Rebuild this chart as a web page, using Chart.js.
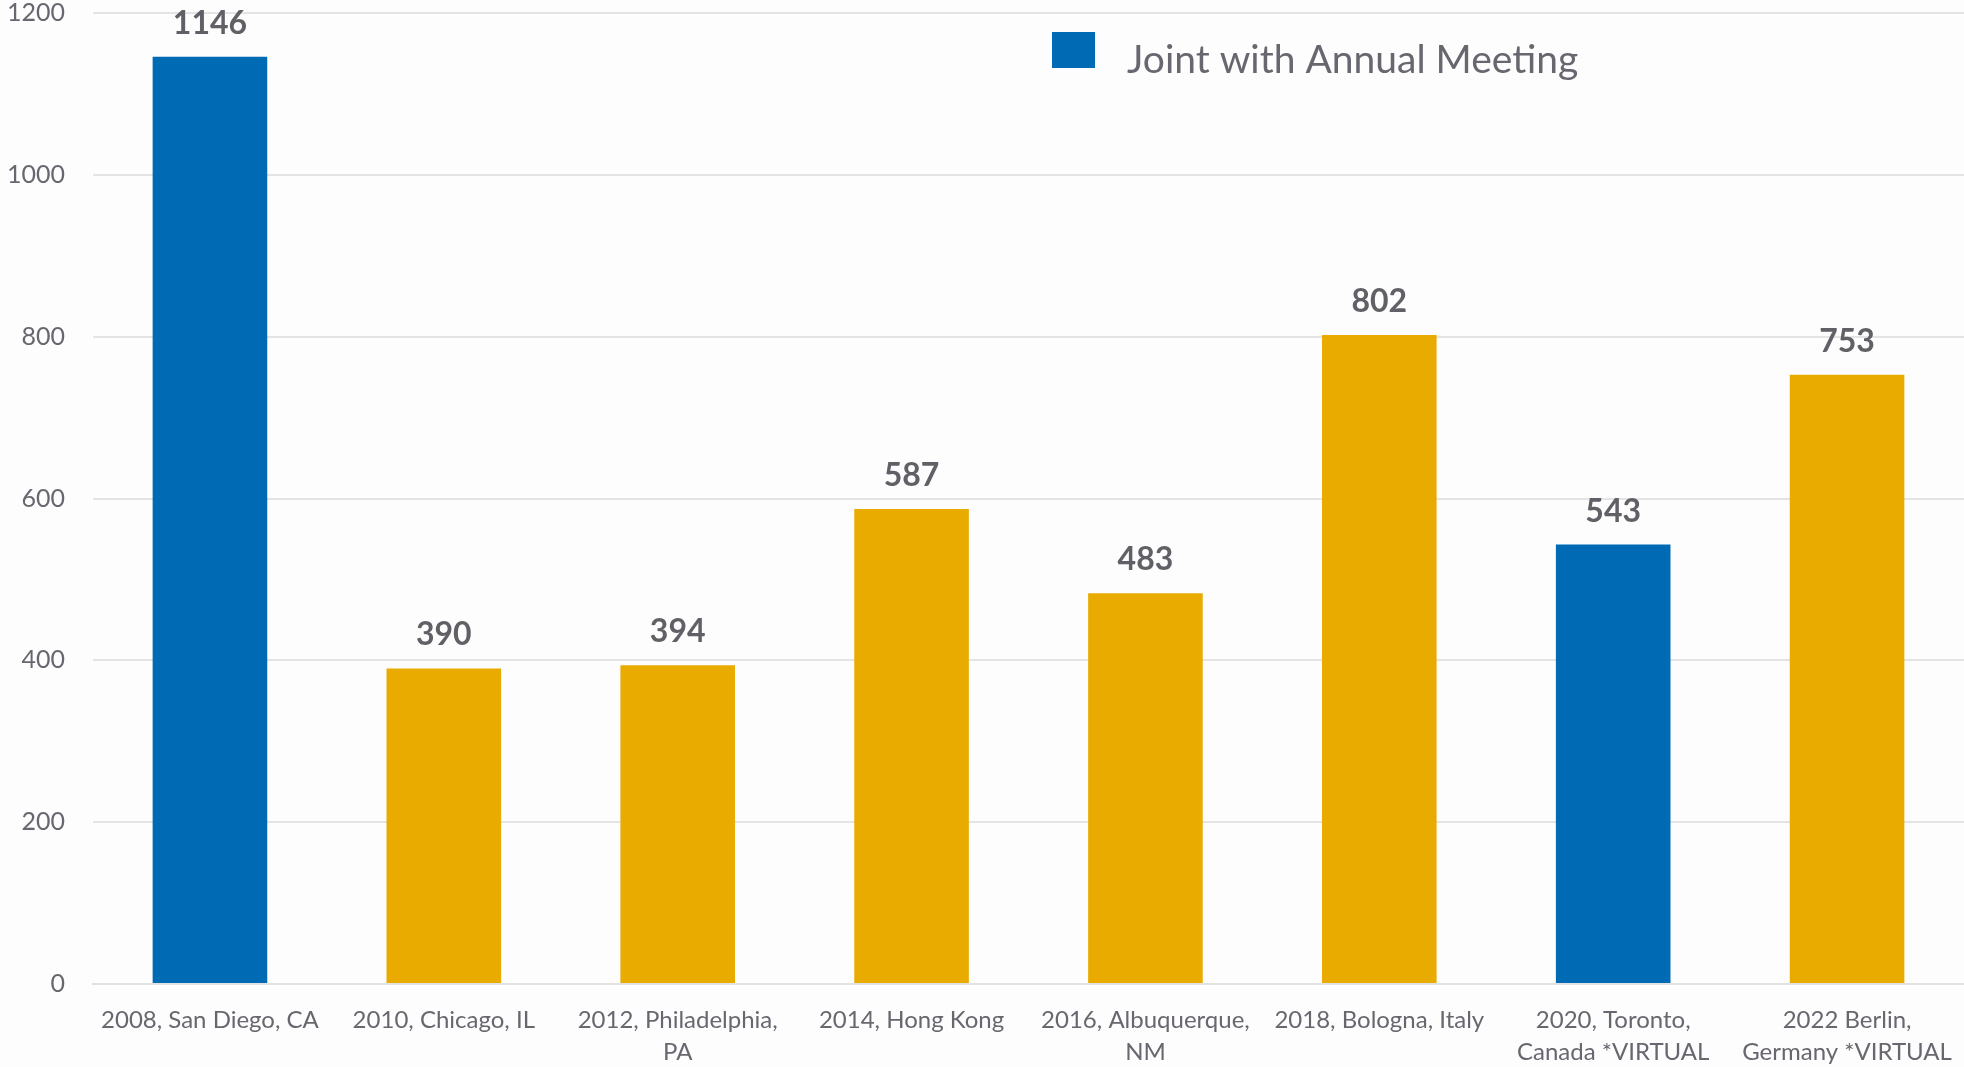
<!DOCTYPE html>
<html>
<head>
<meta charset="utf-8">
<script src="https://cdn.jsdelivr.net/npm/chart.js@4.4.0/dist/chart.umd.min.js"></script>
<style>
  html, body { margin: 0; padding: 0; background: #fdfdfd; }
  #wrap { width: 1964px; height: 1067px; position: relative; }
</style>
</head>
<body>
<div id="wrap"><canvas id="c"></canvas></div>
<script>
const categories = [
  "2008, San Diego, CA",
  "2010, Chicago, IL",
  ["2012, Philadelphia,", "PA"],
  "2014, Hong Kong",
  ["2016, Albuquerque,", "NM"],
  "2018, Bologna, Italy",
  ["2020, Toronto,", "Canada *VIRTUAL"],
  ["2022 Berlin,", "Germany *VIRTUAL"]
];
const attendance = [1146, 390, 394, 587, 483, 802, 543, 753];
const jointWithAnnualMeeting = [true, false, false, false, false, false, true, false];
const legendLabel = "Joint with Annual Meeting";
const yTicks = [0, 200, 400, 600, 800, 1000, 1200];

const BLUE = "#006BB4";
const GOLD = "#E9AB00";
const TEXT = "#67676f";
const FONT = "Lato, 'Open Sans', sans-serif";

const barColors = jointWithAnnualMeeting.map(j => j ? BLUE : GOLD);

const valueLabels = {
  id: "valueLabels",
  afterDatasetsDraw(chart) {
    const ctx = chart.ctx;
    const meta = chart.getDatasetMeta(0);
    ctx.save();
    ctx.font = "bold 32px " + FONT;
    ctx.fillStyle = "#606067";
    ctx.textAlign = "center";
    ctx.textBaseline = "alphabetic";
    meta.data.forEach((bar, i) => {
      ctx.fillText(String(attendance[i]), bar.x, bar.y - 23);
    });
    ctx.restore();
  }
};

const customLegend = {
  id: "customLegend",
  afterDraw(chart) {
    const ctx = chart.ctx;
    const ca = chart.chartArea;
    const x0 = ca.left + 959;
    const y0 = ca.top + 19;
    ctx.save();
    ctx.fillStyle = BLUE;
    ctx.fillRect(x0, y0, 43, 36);
    ctx.font = "39px " + FONT;
    ctx.fillStyle = TEXT;
    ctx.textAlign = "left";
    ctx.textBaseline = "alphabetic";
    ctx.fillText(legendLabel, x0 + 75, y0 + 41);
    ctx.restore();
  }
};

function zeroPadding(scale) {
  scale.paddingTop = 0;
  scale.paddingBottom = 0;
  scale.paddingLeft = 0;
  scale.paddingRight = 0;
}

new Chart(document.getElementById("c"), {
  type: "bar",
  data: {
    labels: categories,
    datasets: [{
      label: legendLabel,
      data: attendance,
      backgroundColor: barColors,
      borderWidth: 0,
      barPercentage: 0.49,
      categoryPercentage: 1.0
    }]
  },
  options: {
    responsive: true,
    maintainAspectRatio: false,
    animation: false,
    devicePixelRatio: 1,
    layout: { padding: { top: 13, right: 0, left: 0, bottom: 0 } },
    plugins: {
      legend: { display: false },
      tooltip: { enabled: false }
    },
    scales: {
      x: {
        grid: { display: false, drawTicks: false },
        border: { display: true, color: "#e2e2e2", width: 2 },
        ticks: {
          color: TEXT,
          font: { family: FONT, size: 24, lineHeight: 1.33 },
          maxRotation: 0,
          minRotation: 0,
          autoSkip: false,
          padding: 20
        },
        afterFit(scale) { scale.height = 83; zeroPadding(scale); }
      },
      y: {
        min: 0,
        max: 1200,
        afterBuildTicks(scale) { scale.ticks = yTicks.map(v => ({ value: v })); },
        grid: { color: "#e4e4e4", lineWidth: 2, drawTicks: false },
        border: { display: false },
        ticks: {
          color: TEXT,
          font: { family: FONT, size: 25 },
          padding: 28,
          callback: v => String(v)
        },
        afterFit(scale) { scale.width = 93; zeroPadding(scale); }
      }
    }
  },
  plugins: [valueLabels, customLegend]
});
</script>
</body>
</html>
